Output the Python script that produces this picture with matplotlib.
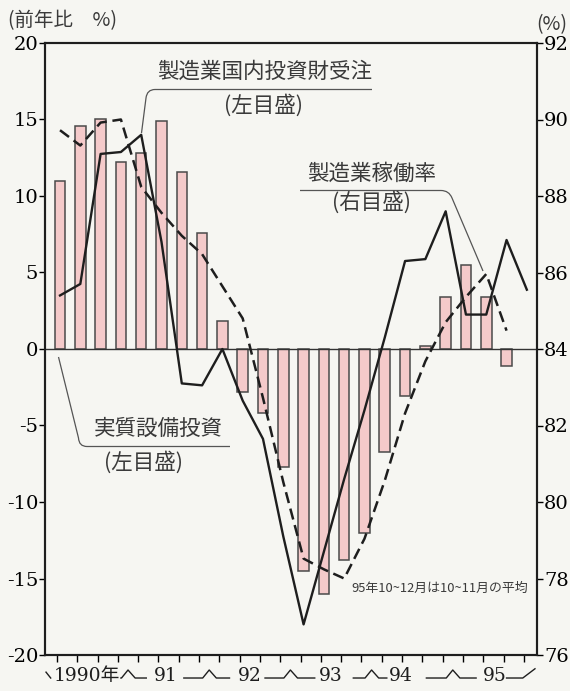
import numpy as np
import matplotlib
matplotlib.use('Agg')
from matplotlib import pyplot as plt
from matplotlib.path import Path
from matplotlib.patches import PathPatch
from matplotlib.lines import Line2D
import matplotlib.transforms as mtransforms

plt.rcParams['axes.unicode_minus'] = False

# 1990年I期 ～ 1995年IV期 (四半期)
years = ['1990年', '91', '92', '93', '94', '95']
# 実質設備投資 前年比 % (左目盛) 1990 I - 1995 III
capex = [11.0, 14.6, 15.0, 12.2, 12.8, 14.9, 11.6, 7.6, 1.8, -2.8, -4.2, -7.7,
         -14.5, -16.0, -13.8, -12.0, -6.7, -3.1, 0.2, 3.4, 5.5, 3.4, -1.1]
# 製造業国内投資財受注 前年比 % (左目盛) 1990 I - 1995 III
orders = [14.3, 13.3, 14.8, 15.0, 10.6, 8.9, 7.4, 6.2, 4.1, 2.0, -3.2, -8.7,
          -13.7, -14.4, -15.0, -12.4, -8.6, -4.2, -0.8, 1.75, 3.4, 4.9, 1.2]
# 製造業稼働率 % (右目盛) 1990 I - 1995 IV
utilization = [85.4, 85.7, 89.1, 89.15, 89.6, 86.8, 83.1, 83.05, 84.0, 82.65, 81.65, 79.1,
               76.8, 78.7, 80.6, 82.4, 84.3, 86.3, 86.35, 87.6, 84.9, 84.9, 86.85, 85.55]

W, H = 570, 691
bg = '#f6f6f2'
ink = '#1e1e1e'
jp = ['Noto Sans CJK JP', 'DejaVu Sans']
num = ['DejaVu Serif', 'Noto Sans CJK JP']

fig = plt.figure(figsize=(W / 100, H / 100), dpi=100, facecolor=bg)
ax = fig.add_axes([45 / W, 1 - 655 / H, (537 - 45) / W, (655 - 43) / H])
ax.set_facecolor(bg)

x_bar = np.arange(len(capex))
x_ord = np.arange(len(orders))
x_util = np.arange(len(utilization))

ax.bar(x_bar, capex, width=0.52, color='#f4caca', edgecolor='#4a4a4a', linewidth=1.1, zorder=2)
ax.axhline(0, color='#333333', lw=1.0, zorder=3)
ax.plot(x_ord, orders, color=ink, lw=1.8, dashes=(4.5, 2.3), zorder=4)

ax.set_xlim(-0.74, 23.5)
ax.set_ylim(-20, 20)
ax.set_yticks(np.arange(-20, 21, 5))
ax.set_xticks(np.arange(24) - 0.15)
ax.set_xticklabels([])
ax.tick_params(axis='y', direction='out', length=4, width=1.0, pad=1, labelsize=14)
ax.tick_params(axis='x', direction='out', length=5, width=1.0)
for lab in ax.get_yticklabels():
    lab.set_family(num)
for sp in ax.spines.values():
    sp.set_linewidth(1.5)
    sp.set_color(ink)

ax2 = ax.twinx()
ax2.plot(x_util, utilization, color=ink, lw=1.7, zorder=5)
ax2.set_ylim(76, 92)
ax2.set_yticks(np.arange(76, 93, 2))
ax2.tick_params(axis='y', direction='out', length=4, width=1.0, pad=1, labelsize=14)
for lab in ax2.get_yticklabels():
    lab.set_family(num)
for sp in ax2.spines.values():
    sp.set_linewidth(1.5)
    sp.set_color(ink)

# 年の区切り (x軸下)
trans = mtransforms.blended_transform_factory(ax.transData, ax.transAxes)
y_lo, y_hi, y_txt = -0.0376, -0.0245, -0.034
year_pos = [1.31, 5.2, 9.36, 13.35, 16.8, 21.4]
for lab, xp in zip(years, year_pos):
    ax.text(xp, y_txt, lab, transform=trans, ha='center', va='center',
            fontsize=13.5, family=num, color=ink)

bx, by = [-0.69, -0.46], [-0.028, y_lo]
ax.add_line(Line2D(bx, by, transform=trans, color=ink, lw=1.0, clip_on=False))
dash_ext = [(0.35, 0.9), (1.25, 1.0), (1.25, 1.2), (0.9, 0.75), (1.3, 1.15)]
for b, (dl, dr) in zip([3.35, 7.35, 11.35, 15.35, 19.35], dash_ext):
    xs = [b - dl, b - 0.32, b, b + 0.35, b + dr]
    ys = [y_lo, y_lo, y_hi, y_lo, y_lo]
    ax.add_line(Line2D(xs, ys, transform=trans, color=ink, lw=1.0, clip_on=False))
ax.add_line(Line2D([22.0, 22.8, 23.4], [y_lo, y_lo, y_hi + 0.002], transform=trans,
                   color=ink, lw=1.0, clip_on=False))


def fx(x, y):
    return (x / W, 1 - y / H)


def leader(pts):
    verts = [fx(*p) for p in pts]
    codes = [Path.MOVETO, Path.LINETO, Path.CURVE3, Path.CURVE3, Path.LINETO]
    fig.add_artist(PathPatch(Path(verts, codes), fill=False, edgecolor='#555555',
                             lw=0.9, transform=fig.transFigure))


leader([(372, 89.5), (155, 89.5), (147, 89.5), (146, 98), (141.5, 133)])
leader([(300, 190.5), (441, 190.5), (449, 190.5), (452, 198), (483, 271)])
leader([(230, 446.5), (87, 446.5), (79, 446.5), (78.5, 438), (58.5, 357)])


def ftext(x, y, s, size=15.5, **kw):
    fig.text(x / W, 1 - y / H, s, fontsize=size, family=jp, color='#3a3a3a',
             ha=kw.pop('ha', 'center'), va='center', **kw)


ftext(265, 72, '製造業国内投資財受注')
ftext(263, 105, '(左目盛)')
ftext(372, 174, '製造業稼働率')
ftext(372, 202, '(右目盛)')
ftext(158, 429, '実質設備投資')
ftext(143, 462, '(左目盛)')
ftext(440, 588, '95年10~12月は10~11月の平均', size=9.3)
ftext(8, 21, '(前年比　%)', size=14, ha='left')
ftext(552, 25, '(%)', size=14)

fig.savefig('out.png', dpi=100, facecolor=bg)
